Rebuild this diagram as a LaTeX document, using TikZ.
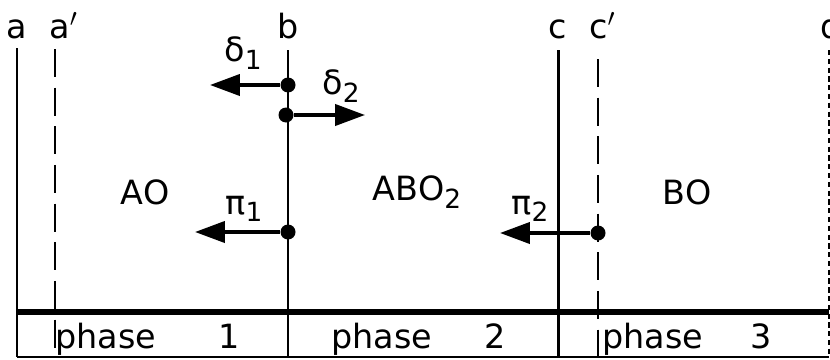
\documentclass[tikz,border=0pt]{standalone}
\usepackage{fontspec}
\setmainfont{DejaVu Sans}
\usetikzlibrary{arrows.meta}

% subscript digit as drawn in the figure
\newcommand{\lowidx}[1]{\raisebox{-0.4ex}{\fontsize{15}{15}\selectfont #1}}

\begin{document}
\begin{tikzpicture}[
    font=\fontsize{19}{22}\selectfont,
    dot/.style={circle, fill=black, inner sep=0pt, minimum size=0.3cm},
    bound/.style={line width=1.7pt},
    shifted/.style={line width=1.4pt, dash pattern=on 16pt off 6pt},
    push/.style={line width=2pt, -{Triangle[length=17pt, width=12pt]}},
]
    \useasboundingbox (0,0) rectangle (16.6,7.18);

    % Interfaces
    \draw[bound] (0.34,6.22) -- (0.34,0.04);
    \draw[bound] (5.76,6.18) -- (5.76,0.04);
    \draw[bound] (11.16,6.18) -- (11.16,0.04);
    \draw[shifted] (1.10,6.20) -- (1.10,0.04);
    \draw[shifted] (11.96,6.00) -- (11.96,0.04);
    \draw[line width=0.9pt, densely dashed] (16.58,6.18) -- (16.58,0.04);

    % Phase strip
    \draw[line width=3pt] (0.34,0.94) -- (16.58,0.94);
    \draw[line width=1.3pt] (0.34,0.04) -- (16.58,0.04);

    % Interface labels
    \node[anchor=base] (la) at (0.34,6.42) {a};
    \node[anchor=base west, inner sep=0pt] (la2) at (0.98,6.42) {a$'$};
    \node[anchor=base] (lb) at (5.76,6.42) {b};
    \node[anchor=base] (lc) at (11.16,6.42) {c};
    \node[anchor=base west, inner sep=0pt] (lc2) at (11.78,6.42) {c$'$};
    \node[anchor=base west, inner sep=0pt] (ld) at (16.40,6.42) {d};

    % Oxide layers
    \node (ao) at (2.9,3.34) {AO};
    \node (abo) at (8.34,3.34) {ABO\lowidx{2}};
    \node (bo) at (13.74,3.34) {BO};

    % Fluxes at the interfaces
    \node[dot] (d1) at (5.76,5.48) {};
    \node[dot] (d2) at (5.72,4.88) {};
    \node[dot] (p1) at (5.76,2.54) {};
    \node[dot] (p2) at (11.96,2.52) {};
    \coordinate (d1tip) at (4.20,5.48);
    \coordinate (d2tip) at (7.30,4.88);
    \coordinate (p1tip) at (3.90,2.54);
    \coordinate (p2tip) at (10.00,2.52);
    \draw[push] (d1) -- (d1tip);
    \draw[push] (d2) -- (d2tip);
    \draw[push] (p1) -- (p1tip);
    \draw[push] (p2) -- (p2tip);

    \node (ld1) at (4.86,6.12) {δ\lowidx{1}};
    \node (ld2) at (6.82,5.46) {δ\lowidx{2}};
    \node (lp1) at (4.88,3.00) {π\lowidx{1}};
    \node (lp2) at (10.60,3.00) {π\lowidx{2}};

    % Phase names
    \node[anchor=base west, inner sep=0pt] (ph1) at (1.10,0.22) {phase\hspace{1.25cm}1};
    \node[anchor=base west, inner sep=0pt] (ph2) at (6.62,0.22) {phase\hspace{1.05cm}2};
    \node[anchor=base west, inner sep=0pt] (ph3) at (12.04,0.22) {phase\hspace{0.95cm}3};
\end{tikzpicture}
\end{document}
